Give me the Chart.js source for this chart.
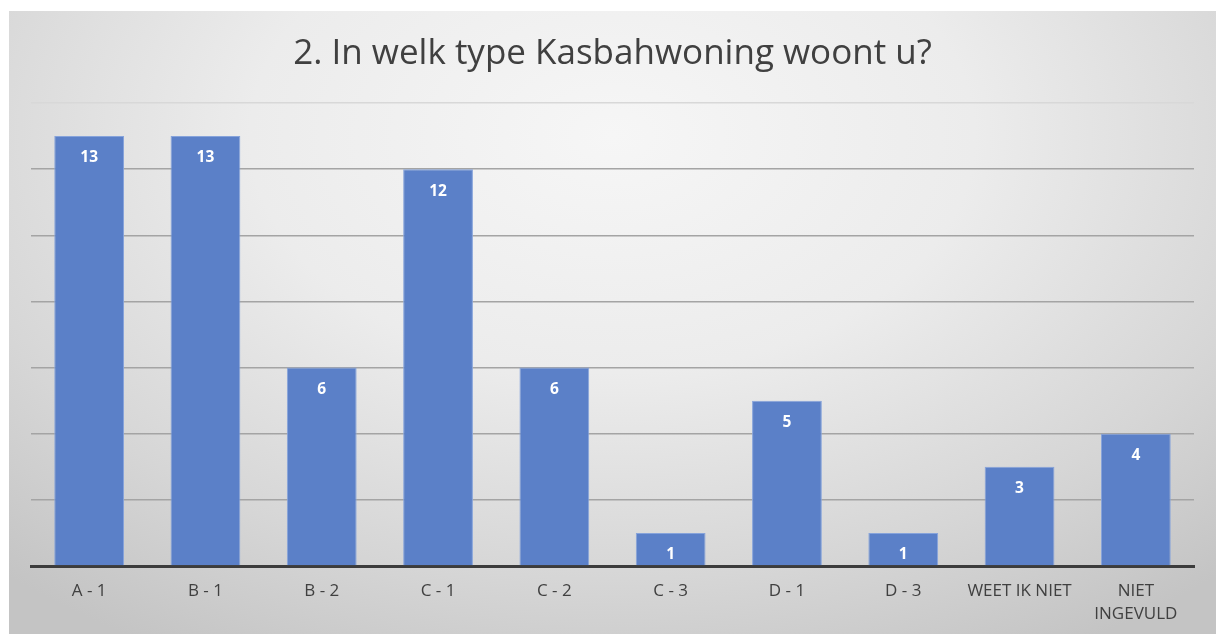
<!DOCTYPE html>
<html>
<head>
<meta charset="utf-8">
<script src="https://cdn.jsdelivr.net/npm/chart.js@4"></script>
<style>
  html, body { margin: 0; padding: 0; background: #fff; }
  #panel {
    position: absolute; left: 9px; top: 11px; width: 1207px; height: 623px;
    background: radial-gradient(ellipse 75% 95% at 50% 20%, #f6f6f6 0%, #ececec 40%, #d6d6d6 75%, #c4c4c4 100%);
  }
</style>
</head>
<body>
<div id="panel"><canvas id="chart" width="1207" height="623"></canvas></div>
<script>
const titleText = "2. In welk type Kasbahwoning woont u?";
const categories = ["A - 1", "B - 1", "B - 2", "C - 1", "C - 2", "C - 3", "D - 1", "D - 3", "WEET IK NIET", ["NIET", "INGEVULD"]];
const counts = [13, 13, 6, 12, 6, 1, 5, 1, 3, 4];
const yTicks = [0, 2, 4, 6, 8, 10, 12, 14];

const valueLabels = {
  id: "valueLabels",
  afterDatasetsDraw(chart) {
    const ctx = chart.ctx;
    const meta = chart.getDatasetMeta(0);
    ctx.save();
    ctx.fillStyle = "#ffffff";
    ctx.font = "bold 15.5px 'Open Sans', sans-serif";
    ctx.textAlign = "center";
    ctx.textBaseline = "middle";
    meta.data.forEach(function (bar, i) {
      ctx.fillText(String(counts[i]), bar.x, bar.y + 22);
    });
    ctx.restore();
  },
};

new Chart(document.getElementById("chart"), {
  type: "bar",
  data: {
    labels: categories,
    datasets: [
      {
        data: counts,
        backgroundColor: "#5b80c8",
        borderColor: "#86a3db",
        borderWidth: 1,
        categoryPercentage: 1,
        barPercentage: 0.6,
      },
    ],
  },
  options: {
    responsive: false,
    animation: false,
    layout: { padding: { left: 22, right: 22, bottom: 0 } },
    plugins: {
      legend: { display: false },
      tooltip: { enabled: false },
      title: {
        display: true,
        text: titleText,
        color: "#404040",
        font: { family: "'Open Sans', sans-serif", size: 35, weight: "normal", lineHeight: 1.2 },
        padding: { top: 22, bottom: 28 },
      },
    },
    scales: {
      x: {
        grid: { display: false, drawTicks: false },
        border: { color: "#3c3c3c", width: 3 },
        ticks: {
          color: "#404040",
          font: { family: "'Open Sans', sans-serif", size: 17, lineHeight: 1.35 },
          padding: 14,
          maxRotation: 0,
          autoSkip: false,
        },
        afterFit(axis) {
          axis.height = 68;
        },
      },
      y: {
        min: 0,
        max: 14,
        afterBuildTicks(axis) {
          axis.ticks = yTicks.map((v) => ({ value: v }));
        },
        grid: {
          drawTicks: false,
          lineWidth: 1.5,
          color: (c) => (c.tick && c.tick.value === 14 ? "#d8d8d8" : "#a4a4a4"),
        },
        border: { display: false },
        ticks: { display: false },
      },
    },
  },
  plugins: [valueLabels],
});
</script>
</body>
</html>
